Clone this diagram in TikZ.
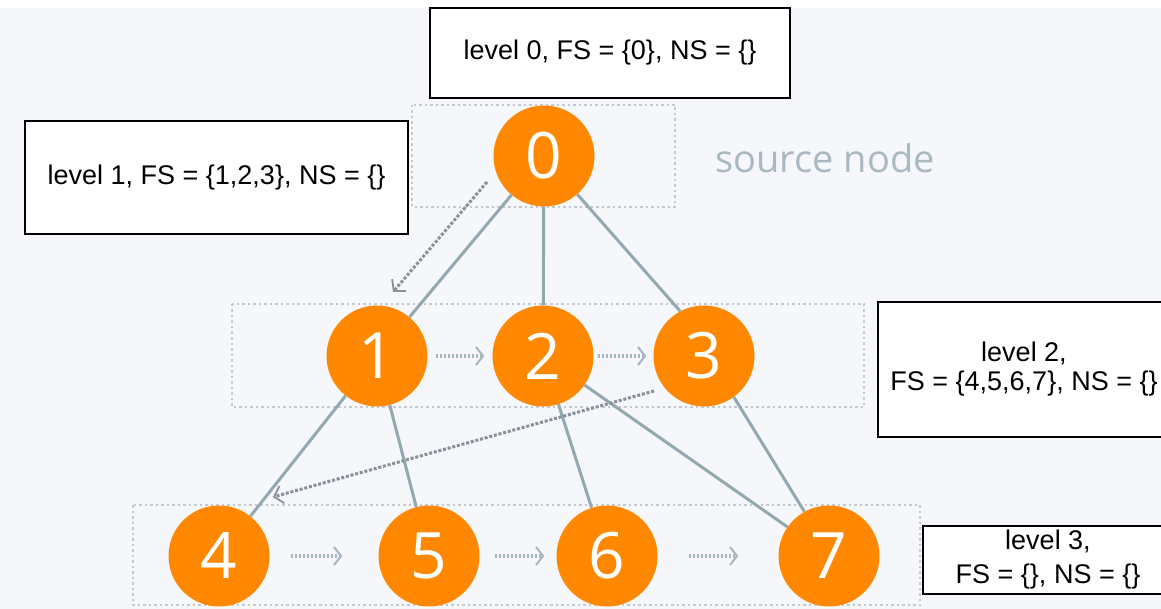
\documentclass[tikz,border=0pt]{standalone}
\usepackage{fontspec}
\setmainfont{Liberation Sans}
\newfontfamily\numfont{Open Sans}
\usetikzlibrary{arrows.meta}
\definecolor{bgc}{RGB}{245,247,250}
\definecolor{orangec}{RGB}{255,136,0}
\definecolor{edgec}{RGB}{148,168,176}
\definecolor{dotboxc}{RGB}{196,201,206}
\definecolor{trav}{RGB}{135,145,155}
\definecolor{travlight}{RGB}{168,182,192}
\definecolor{srcc}{RGB}{170,185,193}
\tikzset{
  vertex/.style={circle, fill=orangec, minimum size=101pt, inner sep=0pt,
    text=white, font=\numfont\fontsize{64}{64}\selectfont},
  infobox/.style={draw=black, line width=1.6pt, fill=white, inner sep=0pt,
    align=center, font=\fontsize{27}{29}\selectfont},
  levelbox/.style={draw=dotboxc, line width=2.5pt, dash pattern=on 2.5pt off 3pt},
  edge/.style={draw=edgec, line width=3pt},
  travarrow/.style={draw=trav, line width=3pt, dash pattern=on 3pt off 1.8pt,
    -{Straight Barb[length=8pt,width=18pt,line width=1.8pt]}},
  sibarrow/.style={draw=travlight, line width=3.5pt, dash pattern=on 2.5pt off 1.5pt,
    -{Straight Barb[length=7pt,width=18pt,line width=2pt]}}
}
\begin{document}
\begin{tikzpicture}[x=1pt,y=-1pt]
\useasboundingbox (0,0) rectangle (1161,609);
\fill[white] (0,0) rectangle (1161,609);
\fill[bgc] (0,8) rectangle (1161,609);

% level (dotted) boxes
\draw[levelbox] (412,105) rectangle (675,207);
\draw[levelbox] (232,304) rectangle (864,407);
\draw[levelbox] (133,505) rectangle (920,605);

% vertices
\node[vertex] (n0) at (544,156) {0};
\node[vertex] (n1) at (377,356) {1};
\node[vertex] (n2) at (543,356) {2};
\node[vertex] (n3) at (704,356) {3};
\node[vertex] (n4) at (219,556) {4};
\node[vertex] (n5) at (429,556) {5};
\node[vertex] (n6) at (607,556) {6};
\node[vertex] (n7) at (829,556) {7};

% edges
\draw[edge] (n0) -- (n1);
\draw[edge] (n0) -- (n2);
\draw[edge] (n0.-49) -- (n3.118);
\draw[edge] (n1) -- (n4);
\draw[edge] (n1) -- (n5);
\draw[edge] (n2) -- (n6);
\draw[edge] (n2) -- (n7);
\draw[edge] (n3.-54) -- (n7.119);

% traversal arrows
\coordinate (a0s) at (487,182);
\coordinate (a0e) at (393,292);
\coordinate (a3s) at (654,391);
\coordinate (a3e) at (273,497);
\draw[travarrow] (a0s) -- (a0e);
\draw[travarrow] (a3s) -- (a3e);

\draw[sibarrow, shorten <=8pt, shorten >=8pt] (n1) -- (n2);
\draw[sibarrow, shorten <=4pt, shorten >=7pt] (n2) -- (n3);
\draw[sibarrow, shorten <=21pt, shorten >=36pt] (n4) -- (n5);
\draw[sibarrow, shorten <=15pt, shorten >=12pt] (n5) -- (n6);
\draw[sibarrow, shorten <=31pt, shorten >=40pt] (n6) -- (n7);

% info boxes
\node[infobox, minimum width=360pt, minimum height=90pt] (l0) at (610,53)
  {level 0, FS = \{0\}, NS = \{\}};
\node[infobox, minimum width=383pt, minimum height=113pt] (l1) at (216.5,177.5)
  {level 1, FS = \{1,2,3\}, NS = \{\}};
\node[infobox, minimum width=292pt, minimum height=135pt] (l2) at (1024,369.5)
  {level 2,\\FS = \{4,5,6,7\}, NS = \{\}};
\node[infobox, minimum width=250pt, minimum height=68pt,
  font=\fontsize{27}{34}\selectfont] (l3) at (1048,560)
  {level 3,\\FS = \{\}, NS = \{\}};

% label
\node[text=srcc, font=\numfont\fontsize{38}{38}\selectfont] (src) at (825,158) {source node};
\end{tikzpicture}
\end{document}
